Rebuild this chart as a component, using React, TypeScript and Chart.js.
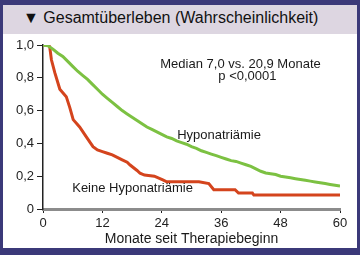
import React, { useEffect, useRef } from "react";
import { Chart, registerables } from "chart.js";

Chart.register(...registerables);

const titleText = "▼ Gesamtüberleben (Wahrscheinlichkeit)";
const xAxisTitle = "Monate seit Therapiebeginn";
const xTicks = [0, 12, 24, 36, 48, 60];
const yTicks = [0, 0.2, 0.4, 0.6, 0.8, 1.0];
const yTickLabels = ["0", "0,2", "0,4", "0,6", "0,8", "1,0"];
const medianText = "Median 7,0 vs. 20,9 Monate";
const pText = "p <0,0001";
const hypoLabel = "Hyponatriämie";
const noHypoLabel = "Keine Hyponatriämie";

const hypoMonths = [0, 1, 2, 3, 4, 5, 6, 7, 8, 9, 10, 11, 12, 13, 14, 15, 16, 17, 18, 19, 20, 21, 22, 23, 24, 25, 26, 27, 28, 29, 30, 31, 32, 33, 34, 35, 36, 37, 38, 39, 40, 41, 42, 43, 44, 45, 46, 47, 48, 49, 50, 51, 52, 53, 54, 55, 56, 57, 58, 59, 60];
const hypoSurv = [1.0, 0.995, 0.975, 0.95, 0.93, 0.9, 0.87, 0.84, 0.815, 0.79, 0.76, 0.73, 0.7, 0.675, 0.65, 0.625, 0.6, 0.58, 0.56, 0.54, 0.52, 0.5, 0.485, 0.47, 0.455, 0.44, 0.43, 0.415, 0.405, 0.395, 0.38, 0.37, 0.355, 0.345, 0.335, 0.325, 0.315, 0.305, 0.295, 0.29, 0.28, 0.27, 0.26, 0.245, 0.23, 0.22, 0.215, 0.21, 0.2, 0.195, 0.19, 0.185, 0.18, 0.175, 0.17, 0.165, 0.16, 0.155, 0.15, 0.145, 0.14];

const noHypoMonths = [0, 1, 1.35, 1.7, 2.4, 3.4, 4.7, 5.4, 6.1, 7.4, 8.75, 10.1, 11, 12, 13, 14, 15, 16, 17, 17.6, 19, 19.6, 20.5, 22.5, 24.2, 25, 31.5, 33.5, 34.5, 38.8, 39.5, 42.3, 42.6, 60];
const noHypoSurv = [1.0, 1.0, 0.99, 0.91, 0.83, 0.73, 0.685, 0.62, 0.545, 0.5, 0.44, 0.38, 0.36, 0.35, 0.34, 0.33, 0.315, 0.3, 0.285, 0.268, 0.235, 0.218, 0.207, 0.2, 0.177, 0.166, 0.166, 0.155, 0.118, 0.118, 0.097, 0.097, 0.085, 0.085];

const FONT = "'Liberation Sans', Arial, sans-serif";

const textPlugin = {
  id: "texts",
  afterDraw(chart: any) {
    const ctx = chart.ctx;
    const xs = chart.scales.x;
    const ys = chart.scales.y;
    ctx.save();
    ctx.fillStyle = "#1a1a1a";
    ctx.font = `13px ${FONT}`;
    ctx.textBaseline = "middle";
    ctx.textAlign = "center";
    ctx.fillText(medianText, xs.getPixelForValue(39.9), ys.getPixelForValue(0.884));
    ctx.fillText(pText, xs.getPixelForValue(41.3), ys.getPixelForValue(0.811));
    ctx.textAlign = "left";
    ctx.fillText(hypoLabel, xs.getPixelForValue(27.1), ys.getPixelForValue(0.451));
    ctx.fillText(noHypoLabel, xs.getPixelForValue(5.9), ys.getPixelForValue(0.127));
    ctx.restore();
  },
};

export default function App() {
  const ref = useRef<HTMLCanvasElement>(null);
  useEffect(() => {
    document.body.style.margin = "0";
    const chart = new Chart(ref.current!, {
      type: "line",
      data: {
        datasets: [
          {
            label: hypoLabel,
            data: hypoMonths.map((m, i) => ({ x: m, y: hypoSurv[i] })),
            borderColor: "#7cc142",
            borderWidth: 3,
            pointRadius: 0,
            fill: false,
          },
          {
            label: noHypoLabel,
            data: noHypoMonths.map((m, i) => ({ x: m, y: noHypoSurv[i] })),
            borderColor: "#d4441d",
            borderWidth: 3,
            pointRadius: 0,
            fill: false,
          },
        ],
      },
      options: {
        animation: false,
        responsive: false,
        maintainAspectRatio: false,
        layout: { padding: { left: 0, right: 20, top: 45, bottom: 7 } },
        plugins: { legend: { display: false }, tooltip: { enabled: false } },
        scales: {
          x: {
            type: "linear",
            min: 0,
            max: 60,
            afterBuildTicks: (s: any) => {
              s.ticks = xTicks.map((v) => ({ value: v }));
            },
            afterFit: (s: any) => {
              s.height = 39;
            },
            ticks: {
              color: "#222",
              font: { family: FONT, size: 13 },
              padding: 3,
              maxRotation: 0,
            },
            grid: {
              drawOnChartArea: false,
              drawTicks: true,
              tickLength: 4,
              color: "#222",
              lineWidth: 1,
            },
            border: { display: true, color: "#8c8c8c", width: 3 },
            title: {
              display: true,
              text: xAxisTitle,
              color: "#1a1a1a",
              font: { family: FONT, size: 14 },
              padding: { top: 2, bottom: 0 },
            },
          },
          y: {
            type: "linear",
            min: 0,
            max: 1,
            afterBuildTicks: (s: any) => {
              s.ticks = yTicks.map((v) => ({ value: v }));
            },
            afterFit: (s: any) => {
              s.width = 43;
            },
            ticks: {
              color: "#222",
              font: { family: FONT, size: 13 },
              padding: 3,
              callback: (v: any, i: number) => yTickLabels[i],
            },
            grid: {
              drawOnChartArea: false,
              drawTicks: true,
              tickLength: 6,
              color: "#222",
              lineWidth: 1,
            },
            border: { display: true, color: "#222", width: 1.5 },
          },
        },
      },
      plugins: [textPlugin],
    } as any);
    return () => chart.destroy();
  }, []);

  return (
    <div style={{ position: "fixed", left: 0, top: 0, width: 360, height: 255, background: "#3b3979", overflow: "hidden" }}>
      <div style={{ position: "absolute", left: 3, top: 5, width: 354, height: 29, background: "#ddd6e1" }}>
        <div style={{ position: "absolute", left: 20, top: 4, fontFamily: FONT, fontSize: 16, color: "#111", whiteSpace: "nowrap" }}>
          {titleText}
        </div>
      </div>
      <div style={{ position: "absolute", left: 3, top: 34, width: 354, height: 214, background: "#ffffff" }} />
      <canvas ref={ref} width={360} height={255} style={{ position: "absolute", left: 0, top: 0, width: 360, height: 255 }} />
    </div>
  );
}
